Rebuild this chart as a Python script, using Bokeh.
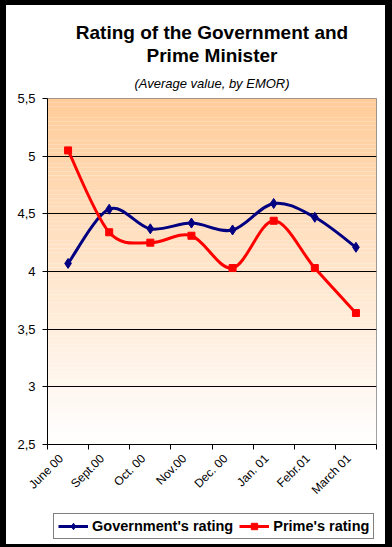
from bokeh.plotting import figure
from bokeh.layouts import column
from bokeh.models import FixedTicker, Legend, LegendItem, Title, Range1d
from bokeh.embed import file_html
from bokeh.resources import INLINE

# ---- data ----
months = ["June 00", "Sept.00", "Oct. 00", "Nov.00", "Dec. 00", "Jan. 01", "Febr.01", "March 01"]
government = [4.07, 4.54, 4.37, 4.42, 4.36, 4.59, 4.47, 4.21]
prime = [5.05, 4.34, 4.25, 4.31, 4.03, 4.44, 4.03, 3.64]
y_ticks = [2.5, 3, 3.5, 4, 4.5, 5, 5.5]
y_tick_labels = ["2,5", "3", "3,5", "4", "4,5", "5", "5,5"]
series_names = ["Government's rating", "Prime's rating"]
title_lines = ["Rating of the Government and", "Prime Minister"]
subtitle = "(Average value, by EMOR)"

FONT = "Liberation Sans"
GOV_COLOR = "#000080"
PRIME_COLOR = "#ff0000"
n = len(months)
xs = [i + 0.5 for i in range(n)]
label_pos = [x - 0.17 for x in xs]

p = figure(frame_width=329, frame_height=346, output_backend="svg", toolbar_location=None,
           x_range=Range1d(0, n), y_range=Range1d(y_ticks[0], y_ticks[-1]),
           min_border_left=47, min_border_right=16, min_border_top=98, min_border_bottom=56)
p.background_fill_color = "white"
p.border_fill_color = None
p.outline_line_color = "#808080"
p.outline_line_width = 1

# gradient plot-area background (peach at top -> white at bottom)
steps = 90
y0, y1 = y_ticks[0], y_ticks[-1]
bots, tops, cols = [], [], []
for k in range(steps):
    f = (k + 0.5) / steps
    bots.append(y0 + (y1 - y0) * k / steps)
    tops.append(y0 + (y1 - y0) * (k + 1) / steps)
    cols.append("#%02x%02x%02x" % (255, round(255 - 51 * f), round(255 - 102 * f)))
grad = p.quad(left=0, right=n, bottom=bots, top=tops, fill_color=cols, line_color=None)
grad.level = "image"

# grid
p.xgrid.visible = False
p.ygrid.ticker = FixedTicker(ticks=y_ticks[1:-1])
p.ygrid.grid_line_color = "black"
p.ygrid.grid_line_width = 1

# axes
p.yaxis.ticker = FixedTicker(ticks=y_ticks)
p.yaxis.major_label_overrides = {t: l for t, l in zip(y_ticks, y_tick_labels)}
p.yaxis.major_tick_out = 5
p.yaxis.major_tick_in = 0
p.yaxis.minor_tick_line_color = None
p.yaxis.axis_line_color = "black"
p.yaxis.major_tick_line_color = "black"
p.yaxis.major_label_text_font = FONT
p.yaxis.major_label_text_font_size = "13px"
p.yaxis.major_label_text_color = "black"
p.yaxis.major_label_standoff = 7

p.xaxis.ticker = FixedTicker(ticks=label_pos, minor_ticks=list(range(n + 1)))
p.xaxis.major_label_overrides = {x: m for x, m in zip(label_pos, months)}
p.xaxis.major_tick_out = 0
p.xaxis.major_tick_in = 0
p.xaxis.minor_tick_out = 5
p.xaxis.minor_tick_in = 0
p.xaxis.minor_tick_line_color = "black"
p.xaxis.axis_line_color = "black"
p.xaxis.major_label_orientation = 0.785398
p.xaxis.major_label_text_font = FONT
p.xaxis.major_label_text_font_size = "12px"
p.xaxis.major_label_text_color = "black"
p.xaxis.major_label_standoff = 7


def smooth(fig, ys, color, width):
    x0s, y0s, x1s, y1s, cx0, cy0, cx1, cy1 = [], [], [], [], [], [], [], []
    for i in range(n - 1):
        pm = (xs[i - 1], ys[i - 1]) if i > 0 else (xs[i], ys[i])
        pa = (xs[i], ys[i])
        pb = (xs[i + 1], ys[i + 1])
        pp = (xs[i + 2], ys[i + 2]) if i + 2 < n else (xs[i + 1], ys[i + 1])
        x0s.append(pa[0]); y0s.append(pa[1]); x1s.append(pb[0]); y1s.append(pb[1])
        cx0.append(pa[0] + (pb[0] - pm[0]) / 6); cy0.append(pa[1] + (pb[1] - pm[1]) / 6)
        cx1.append(pb[0] - (pp[0] - pa[0]) / 6); cy1.append(pb[1] - (pp[1] - pa[1]) / 6)
    return fig.bezier(x0=x0s, y0=y0s, x1=x1s, y1=y1s, cx0=cx0, cy0=cy0, cx1=cx1, cy1=cy1,
                      line_color=color, line_width=width)


def draw_series(fig):
    gl = smooth(fig, government, GOV_COLOR, 3)
    gm = fig.scatter(xs, government, marker="diamond", size=10, fill_color=GOV_COLOR, line_color=GOV_COLOR)
    rl = smooth(fig, prime, PRIME_COLOR, 3)
    rm = fig.scatter(xs, prime, marker="square", size=7, fill_color=PRIME_COLOR, line_color=PRIME_COLOR)
    return gl, gm, rl, rm

draw_series(p)

# titles (added from the frame outward)
p.add_layout(Title(text=subtitle, align="center", text_font=FONT, text_font_style="italic",
                   text_font_size="13px", text_color="black", standoff=16), "above")
p.add_layout(Title(text=title_lines[1], align="center", text_font=FONT, text_font_style="bold",
                   text_font_size="19px", text_color="black", standoff=0), "above")
p.add_layout(Title(text=title_lines[0], align="center", text_font=FONT, text_font_style="bold",
                   text_font_size="19px", text_color="black", standoff=0), "above")

# legend strip below the chart (series drawn off-view, only their legend glyphs show)
q = figure(width=392, height=47, output_backend="svg", toolbar_location=None,
           x_range=Range1d(100, 101), y_range=Range1d(100, 101),
           x_axis_type=None, y_axis_type=None, min_border=0)
q.outline_line_color = None
q.background_fill_color = None
q.border_fill_color = None
gl, gm, rl, rm = draw_series(q)

legend = Legend(items=[LegendItem(label=series_names[0], renderers=[gl, gm]),
                       LegendItem(label=series_names[1], renderers=[rl, rm])],
                orientation="horizontal", location=(6, 12))
legend.label_text_font = FONT
legend.label_text_font_style = "bold"
legend.label_text_font_size = "14.5px"
legend.label_text_color = "black"
legend.glyph_width = 30
legend.glyph_height = 16
legend.label_height = 16
legend.label_standoff = 4
legend.spacing = 6
legend.padding = 4
legend.margin = 0
legend.border_line_color = "black"
legend.border_line_width = 1
legend.background_fill_color = "white"
legend.background_fill_alpha = 1
q.add_layout(legend, "center")

page = column(p, q, spacing=0)
page.styles = {"background-color": "white",
               "box-shadow": "inset 6px 5px 0 0 black, inset -7px -7px 0 0 black"}

open("out.html", "w").write(file_html(page, INLINE))
